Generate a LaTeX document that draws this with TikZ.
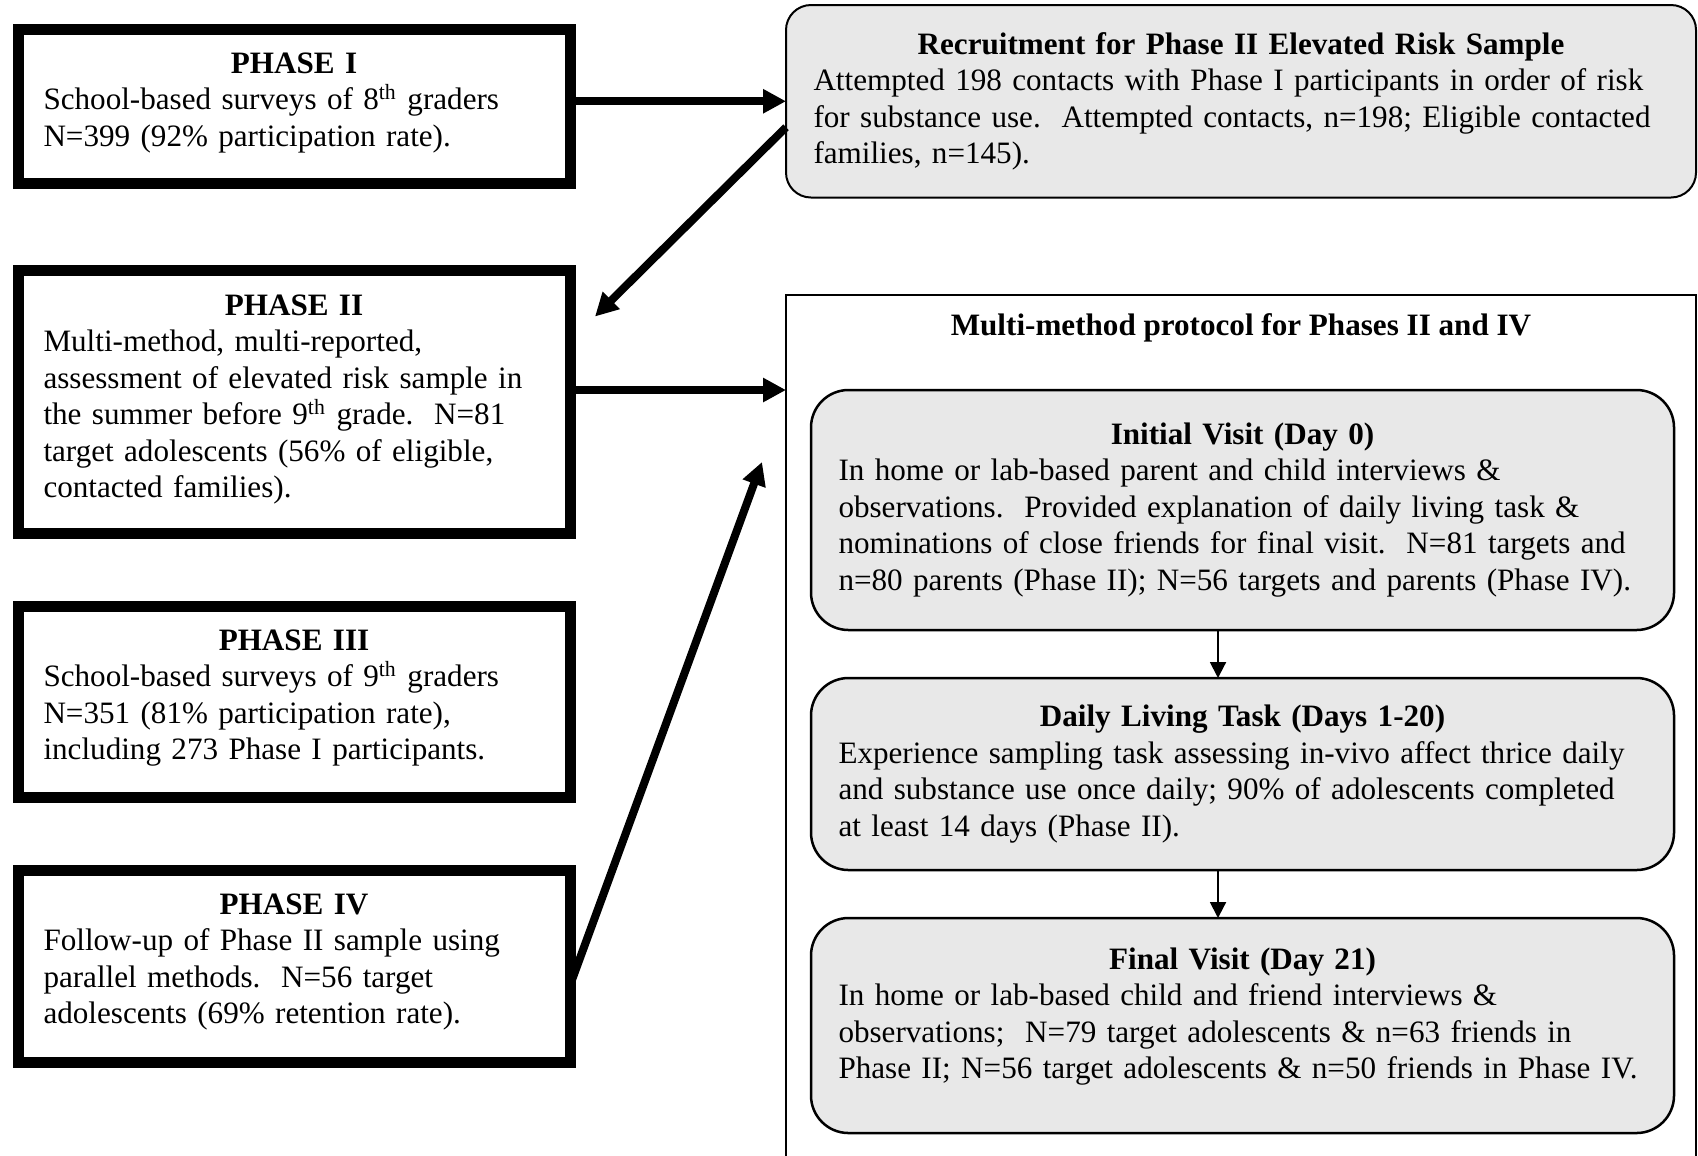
\documentclass[tikz,border=0pt]{standalone}
\usepackage{fontspec}
\setmainfont{Liberation Serif}
\usetikzlibrary{positioning,calc,arrows.meta}
\definecolor{boxgray}{HTML}{E8E8E8}
\tikzstyle{ph}=[rectangle,draw=black,line width=4.4pt,outer sep=0pt,inner xsep=10.2pt,text width=200.4pt,align=left,fill=white]
\tikzstyle{rb}=[rectangle,rounded corners=15pt,draw=black,line width=1pt,outer sep=0pt,fill=boxgray,inner xsep=11pt,text width=323.2pt,align=left]
\tikzset{
	rec/.style={rb,rounded corners=10pt,line width=0.8pt,inner xsep=11pt,text width=342pt,minimum height=77pt},
	pb/.style={rectangle,draw=black,line width=0.8pt,outer sep=0pt,minimum width=364pt,minimum height=352pt},
	bigArrow/.style={-{Triangle[length=9.2pt,width=9.2pt]},line width=3.2pt},
	thinArrow/.style={-{Triangle[length=6.4pt,width=6.4pt]},line width=0.8pt}
}
\newcommand{\hd}[1]{{\centering\noindent\textbf{#1}\par}\noindent}
\newcommand{\lowstrut}[1]{\rule[-#1]{0pt}{#1}}

\begin{document}
\begin{tikzpicture}[x=0.4pt,y=-0.4pt,every node/.style={font=\fontsize{12.45}{14.6}\selectfont}]
    \useasboundingbox (0,0) rectangle (1698,1155);
    \clip (0,0) rectangle (1698,1155);

    % phases
    \node (phase1) [ph,minimum height=61.6pt,anchor=north west] at (18,29.5) {\hd{PHASE I}School-based surveys of 8\textsuperscript{th} graders\\N=399 (92\% participation rate).\lowstrut{5.5pt}};
    \node (phase2) [ph,minimum height=105.2pt,below=34.8pt of phase1] {\hd{PHASE II}Multi-method, multi-reported,\\assessment of elevated risk sample in\\the summer before 9\textsuperscript{th} grade.\ \ N=81\\target adolescents (56\% of eligible,\\contacted families).\lowstrut{4.5pt}};
    \node (phase3) [ph,minimum height=76.6pt,below=29pt of phase2] {\hd{PHASE III}School-based surveys of 9\textsuperscript{th} graders\\N=351 (81\% participation rate),\\including 273 Phase I participants.\lowstrut{5.5pt}};
    \node (phase4) [ph,minimum height=76.6pt,below=29.2pt of phase3] {\hd{PHASE IV}Follow-up of Phase II sample using\\parallel methods.\ \ N=56 target\\adolescents (69\% retention rate).\lowstrut{6pt}};

    % recruitment and protocol
    \node (recruit) [rec,anchor=north west] at (786,5) {\hd{Recruitment for Phase II Elevated Risk Sample}Attempted 198 contacts with Phase I participants in order of risk\\for substance use.\ \ Attempted contacts, n=198; Eligible contacted\\families, n=145).};
    \node (protocol) [pb,anchor=north west] at (786,295) {};
    \node (prototitle) [anchor=base,font=\fontsize{12.45}{14.6}\selectfont\bfseries] at ($(protocol.north)+(0,40)$) {Multi-method protocol for Phases II and IV};
    \node (initial) [rb,minimum height=96pt,anchor=north west] at (811,390) {\hd{Initial Visit (Day 0)}In home or lab-based parent and child interviews \&\\observations.\ \ Provided explanation of daily living task \&\\nominations of close friends for final visit.\ \ N=81 targets and\\n=80 parents (Phase II); N=56 targets and parents (Phase IV).};
    \node (daily) [rb,minimum height=76.8pt,below=19.2pt of initial] {\hd{Daily Living Task (Days 1-20)}Experience sampling task assessing in-vivo affect thrice daily\\and substance use once daily; 90\% of adolescents completed\\at least 14 days (Phase II).};
    \node (final) [rb,minimum height=86pt,below=19.2pt of daily] {\hd{Final Visit (Day 21)}In home or lab-based child and friend interviews \&\\observations;\ \ N=79 target adolescents \& n=63 friends in\\Phase II; N=56 target adolescents \& n=50 friends in Phase IV.\lowstrut{10pt}};

    \draw[thinArrow] ([xshift=-9.8pt]initial.south) -- ([xshift=-9.8pt]daily.north);
    \draw[thinArrow] ([xshift=-9.8pt]daily.south) -- ([xshift=-9.8pt]final.north);

    % thick arrows
    \coordinate (p2in) at ($(phase2.north east)+(25,46)$);
    \coordinate (p2out) at ([yshift=4.8pt]phase2.east);
    \coordinate (p4in) at ($(protocol.north west)+(-24,167)$);
    \draw[bigArrow] (phase1.east |- recruit.west) -- (recruit.west);
    \draw[bigArrow] ([yshift=-10.4pt]recruit.west) -- (p2in);
    \draw[bigArrow] (p2out) -- (p2out -| protocol.west);
    \draw[bigArrow] ([yshift=-7.6pt]phase4.east) -- (p4in);
\end{tikzpicture}
\end{document}
